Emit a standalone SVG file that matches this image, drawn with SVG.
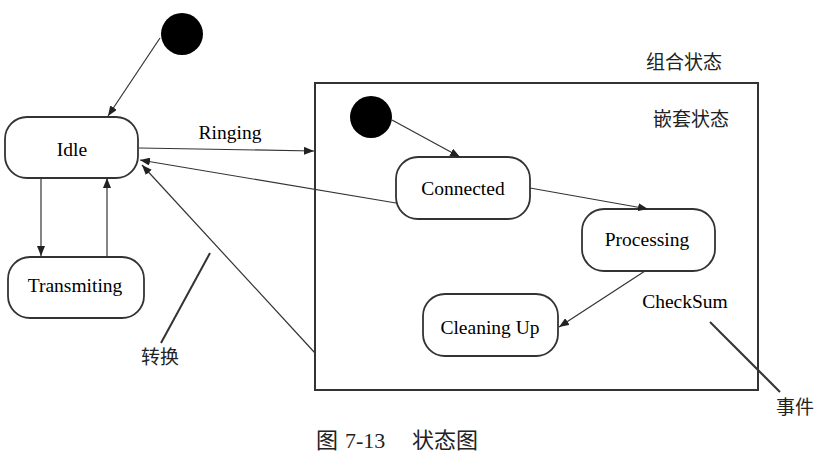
<svg xmlns="http://www.w3.org/2000/svg" width="821" height="471" viewBox="0 0 821 471">
<style>
.box{fill:#fff;stroke:#333;stroke-width:1.8}
.init{fill:#000}
.lbl{font-family:"Liberation Serif","Noto Sans CJK SC",serif;font-size:19.5px;fill:#000;text-anchor:middle;dominant-baseline:central}
.cjk{font-family:"Liberation Serif","Noto Sans CJK SC",serif;font-size:19px;fill:#222;text-anchor:middle;dominant-baseline:central}
.cap{font-family:"Liberation Serif","Noto Sans CJK SC",serif;font-size:22px;fill:#222;dominant-baseline:central}
.edge{stroke:#333;stroke-width:1.2;fill:none}
.note{stroke:#333;stroke-width:2;fill:none}
</style>
<defs>
<marker id="ah" viewBox="0 0 10 8" refX="10" refY="4" markerWidth="10" markerHeight="8" markerUnits="userSpaceOnUse" orient="auto">
<path d="M0,0 L10,4 L0,8 Z" fill="#222"/>
</marker>
</defs>
<rect width="821" height="471" fill="#fff"/>
<g id="composite">
<rect x="315" y="83" width="443" height="307" fill="none" stroke="#333" stroke-width="2"/>
<text class="cjk" x="684" y="62">组合状态</text>
<text class="cjk" x="691" y="119">嵌套状态</text>
</g>
<g id="init1"><circle class="init" cx="182" cy="34" r="21"/></g>
<g id="init2"><circle class="init" cx="371" cy="117" r="21"/></g>
<g id="idle"><rect class="box" x="5" y="117" width="133" height="61" rx="22"/><text class="lbl" x="72" y="149">Idle</text></g>
<g id="transmiting"><rect class="box" x="8" y="257" width="136" height="61" rx="22"/><text class="lbl" x="75" y="285">Transmiting</text></g>
<g id="connected"><rect class="box" x="396" y="157" width="134" height="62" rx="22"/><text class="lbl" x="463" y="188">Connected</text></g>
<g id="processing"><rect class="box" x="582" y="209" width="133" height="62" rx="22"/><text class="lbl" x="647" y="239">Processing</text></g>
<g id="cleaningup"><rect class="box" x="423" y="294" width="135" height="62" rx="22"/><text class="lbl" x="490" y="327">Cleaning Up</text></g>
<g id="connectors">
<line class="edge" x1="160" y1="38" x2="108" y2="116" marker-end="url(#ah)"/>
<line class="edge" x1="139" y1="148" x2="314" y2="151" marker-end="url(#ah)"/>
<line class="edge" x1="396" y1="203" x2="140" y2="160" marker-end="url(#ah)"/>
<line class="edge" x1="315" y1="353" x2="142" y2="165" marker-end="url(#ah)"/>
<line class="edge" x1="41" y1="178" x2="41" y2="256" marker-end="url(#ah)"/>
<line class="edge" x1="107" y1="256" x2="107" y2="178" marker-end="url(#ah)"/>
<line class="edge" x1="392" y1="120" x2="460" y2="157" marker-end="url(#ah)"/>
<line class="edge" x1="530" y1="188" x2="648" y2="209" marker-end="url(#ah)"/>
<line class="edge" x1="645" y1="271" x2="559" y2="327" marker-end="url(#ah)"/>
</g>
<g id="labels">
<text class="lbl" x="230" y="132">Ringing</text>
<text class="lbl" x="685" y="301">CheckSum</text>
<line class="note" x1="210" y1="253" x2="161" y2="343"/>
<text class="cjk" x="160" y="357">转换</text>
<line class="note" x1="710" y1="322" x2="780" y2="392"/>
<text class="cjk" x="795" y="407">事件</text>
<text class="cap" x="316" y="440">图</text>
<text class="cap" x="345" y="440">7-13</text>
<text class="cap" x="412" y="440">状态图</text>
</g>
</svg>
